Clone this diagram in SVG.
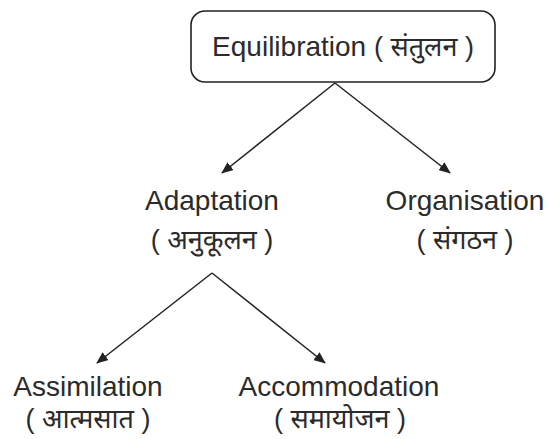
<svg xmlns="http://www.w3.org/2000/svg" width="548" height="439" viewBox="0 0 548 439">
  <style>
    .lbl { font-family: "Liberation Sans", Arial, "Noto Sans", sans-serif; font-size: 28px; fill: #2b2b2b; text-anchor: middle; }
    .hin { font-family: "Noto Sans Devanagari", "Noto Sans", "Liberation Sans", sans-serif; font-size: 27px; fill: #2b2b2b; text-anchor: middle; }
    .par { font-family: "Liberation Sans", Arial, sans-serif; font-size: 27px; font-weight: normal; }
    .edge { stroke: #222; stroke-width: 1.5; fill: none; marker-end: url(#arrow); }
    .box { fill: #fff; stroke: #222; stroke-width: 1.6; }
  </style>
  <defs>
    <marker id="arrow" viewBox="0 0 12 10" refX="11" refY="5" markerWidth="12" markerHeight="10" markerUnits="userSpaceOnUse" orient="auto">
      <path d="M0,0 L12,5 L0,10 Z" fill="#222"/>
    </marker>
  </defs>
  <rect width="548" height="439" fill="#fff"/>

  <g id="connectors">
    <path class="edge" d="M335,83 L222,173"/>
    <path class="edge" d="M335,83 L450,173"/>
    <path class="edge" d="M212,273 L97,363"/>
    <path class="edge" d="M212,273 L325,363"/>
  </g>

  <g id="equilibration">
    <rect class="box" x="191" y="11" width="304" height="71" rx="14"/>
    <text class="lbl" x="343" y="56">Equilibration <tspan class="par">( </tspan><tspan style="font-family:'Noto Sans Devanagari','Noto Sans',sans-serif;font-size:27px">संतुलन</tspan><tspan class="par"> )</tspan></text>
  </g>

  <g id="adaptation">
    <text class="lbl" x="212" y="210">Adaptation</text>
    <text class="hin" x="212" y="249"><tspan class="par">( </tspan>अनुकूलन<tspan class="par"> )</tspan></text>
  </g>

  <g id="organisation">
    <text class="lbl" x="465" y="210">Organisation</text>
    <text class="hin" x="465" y="249"><tspan class="par">( </tspan>संगठन<tspan class="par"> )</tspan></text>
  </g>

  <g id="assimilation">
    <text class="lbl" x="88" y="396">Assimilation</text>
    <text class="hin" x="88" y="428"><tspan class="par">( </tspan>आत्मसात<tspan class="par"> )</tspan></text>
  </g>

  <g id="accommodation">
    <text class="lbl" x="339" y="396">Accommodation</text>
    <text class="hin" x="340" y="428"><tspan class="par">( </tspan>समायोजन<tspan class="par"> )</tspan></text>
  </g>
</svg>
